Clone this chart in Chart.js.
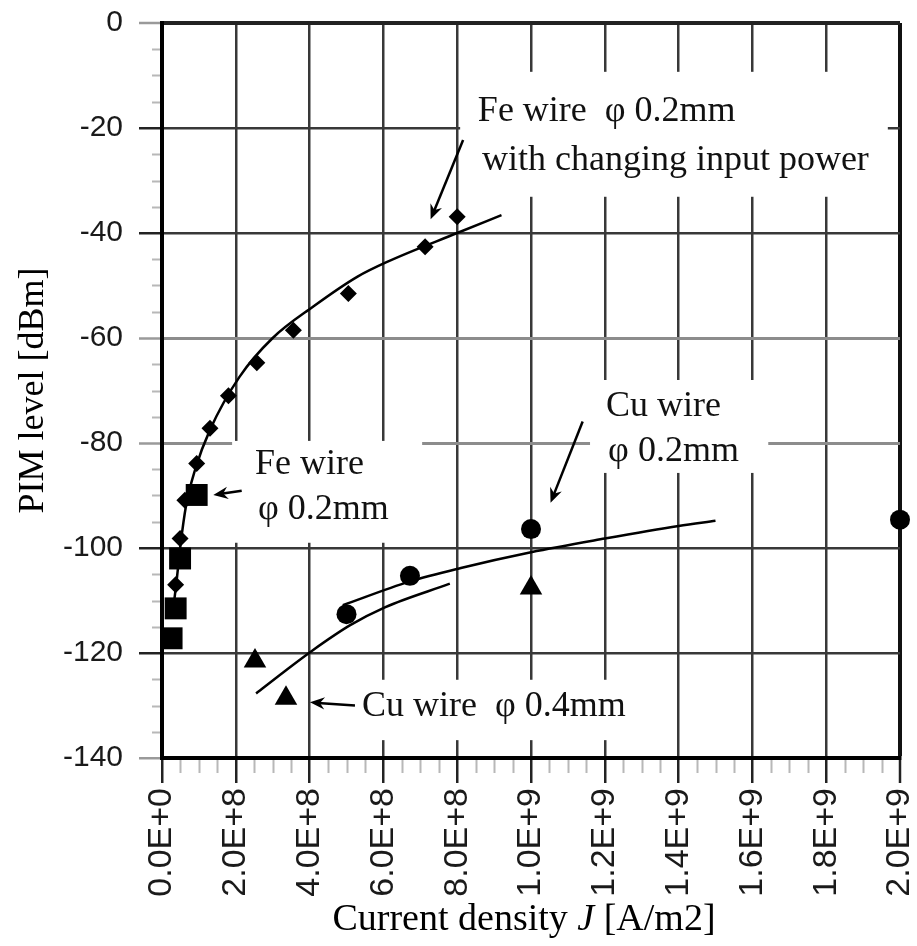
<!DOCTYPE html>
<html>
<head>
<meta charset="utf-8">
<script src="https://cdn.jsdelivr.net/npm/chart.js@4.4.1/dist/chart.umd.min.js"></script>
<style>
  html, body { margin: 0; padding: 0; background: #fff; }
</style>
</head>
<body>
<canvas id="pim" width="917" height="946"></canvas>
<script>
// Fe wire 0.2mm with changing input power (diamonds)
const feSweepX = [3.7e7, 4.9e7, 6.2e7, 9.4e7, 1.30e8, 1.80e8, 2.57e8, 3.56e8, 5.05e8, 7.13e8, 8.0e8];
const feSweepY = [-107, -98.2, -90.9, -83.9, -77.2, -71.0, -64.7, -58.5, -51.5, -42.6, -36.9];

// Fe wire 0.2mm (squares)
const feWireX = [2.6e7, 3.7e7, 4.9e7, 9.4e7];
const feWireY = [-117.2, -111.5, -102, -89.9];

// Cu wire 0.2mm (circles)
const cu02X = [5.0e8, 6.72e8, 1.0e9, 2.0e9];
const cu02Y = [-112.6, -105.3, -96.4, -94.6];

// Cu wire 0.4mm (triangles)
const cu04X = [2.52e8, 3.36e8, 1.0e9];
const cu04Y = [-121.5, -128.6, -107.6];

// fitted curves
const feFitX = [2.8e7, 4.0e7, 5.0e7, 6.5e7, 9.0e7, 1.3e8, 2.1e8, 3.0e8, 4.1e8, 5.3e8, 6.1e8, 8.0e8, 9.2e8];
const feFitY = [-113, -106, -99.5, -92, -85, -77.5, -67.4, -60, -54, -48.3, -45.5, -40, -36.6];
const cu02FitX = [4.9e8, 6.7e8, 8.1e8, 1.0e9, 1.2e9, 1.4e9, 1.5e9];
const cu02FitY = [-110.9, -106.4, -103.8, -100.8, -98.2, -95.8, -94.8];
const cu04FitX = [2.55e8, 3.3e8, 4.06e8, 5.1e8, 6.04e8, 7.8e8];
const cu04FitY = [-127.7, -123.6, -119.6, -114.7, -111.3, -106.8];

const xTickLabels = ['0.0E+0', '2.0E+8', '4.0E+8', '6.0E+8', '8.0E+8', '1.0E+9',
                     '1.2E+9', '1.4E+9', '1.6E+9', '1.8E+9', '2.0E+9'];
const yTickLabels = ['-140', '-120', '-100', '-80', '-60', '-40', '-20', '0'];

// annotation text: [x, y, text]
const notes = [
  [8.56e8, -16.9, 'Fe wire  \u03c6 0.2mm'],
  [8.67e8, -26.2, 'with changing input power'],
  [2.52e8, -84.1, 'Fe wire'],
  [2.60e8, -92.6, '\u03c6 0.2mm'],
  [1.203e9, -73.1, 'Cu wire'],
  [1.209e9, -81.6, '\u03c6 0.2mm'],
  [5.42e8, -130.2, 'Cu wire  \u03c6 0.4mm'],
];
// white boxes behind the notes: [x0, x1, yTop, yBottom]
const noteBoxes = [
  [8.08e8, 1.967e9, -9.3, -33.1],
  [1.9e8, 7.05e8, -79.6, -99.0],
  [1.16e9, 1.643e9, -68, -85.7],
  [4.7e8, 1.32e9, -125.1, -136.6],
];
// arrows: [tailX, tailY, tipX, tipY]
const arrows = [
  [8.16e8, -22.3, 7.28e8, -37.4],
  [2.16e8, -89.1, 1.39e8, -89.9],
  [1.14e9, -75.9, 1.053e9, -91.4],
  [5.23e8, -130.0, 4.01e8, -129.4],
];

const pts = (xs, ys) => xs.map((x, i) => ({ x, y: ys[i] }));
const serif = '"Liberation Serif", "Times New Roman", serif';

const markerSet = (label, xs, ys, style, r) => ({
  label, data: pts(xs, ys), showLine: false, pointStyle: style, pointRadius: r,
  pointHoverRadius: r, backgroundColor: '#000', borderColor: '#000', borderWidth: 0, clip: false,
});
const fitSet = (label, xs, ys) => ({
  label, data: pts(xs, ys), showLine: true, pointRadius: 0, borderColor: '#000',
  borderWidth: 2.5, cubicInterpolationMode: 'monotone', fill: false,
});

const overlay = {
  id: 'overlay',
  beforeDatasetsDraw(chart) {
    const { ctx, scales: { x, y } } = chart;
    ctx.save();
    ctx.fillStyle = '#fff';
    noteBoxes.forEach(([x0, x1, y0, y1]) => {
      const px0 = x.getPixelForValue(x0), px1 = x.getPixelForValue(x1);
      const py0 = y.getPixelForValue(y0), py1 = y.getPixelForValue(y1);
      ctx.fillRect(px0, py0, px1 - px0, py1 - py0);
    });
    ctx.restore();
  },
  afterDatasetsDraw(chart) {
    const { ctx, scales: { x, y } } = chart;
    ctx.save();
    ctx.strokeStyle = '#000';
    ctx.fillStyle = '#000';
    ctx.lineWidth = 2.5;
    arrows.forEach(([tx, ty, hx, hy]) => {
      const x0 = x.getPixelForValue(tx), y0 = y.getPixelForValue(ty);
      const x1 = x.getPixelForValue(hx), y1 = y.getPixelForValue(hy);
      const a = Math.atan2(y1 - y0, x1 - x0);
      ctx.beginPath();
      ctx.moveTo(x0, y0);
      ctx.lineTo(x1 - 8 * Math.cos(a), y1 - 8 * Math.sin(a));
      ctx.stroke();
      ctx.beginPath();
      ctx.moveTo(x1, y1);
      ctx.lineTo(x1 - 16 * Math.cos(a - 0.4), y1 - 16 * Math.sin(a - 0.4));
      ctx.lineTo(x1 - 10 * Math.cos(a), y1 - 10 * Math.sin(a));
      ctx.lineTo(x1 - 16 * Math.cos(a + 0.4), y1 - 16 * Math.sin(a + 0.4));
      ctx.closePath();
      ctx.fill();
    });
    ctx.font = '36px ' + serif;
    ctx.fillStyle = '#111';
    ctx.textBaseline = 'middle';
    ctx.textAlign = 'left';
    notes.forEach(([nx, ny, t]) => ctx.fillText(t, x.getPixelForValue(nx), y.getPixelForValue(ny)));
    ctx.restore();
  },
  afterDraw(chart) {
    const { ctx, chartArea: area, scales: { x, y } } = chart;
    ctx.save();
    // minor ticks
    ctx.strokeStyle = '#b8b8b8';
    ctx.lineWidth = 2;
    ctx.beginPath();
    for (let v = -135; v < 0; v += 5) {
      if (v % 20 === 0) continue;
      const py = Math.round(y.getPixelForValue(v)) + 0.5;
      ctx.moveTo(area.left - 10, py);
      ctx.lineTo(area.left - 2, py);
    }
    for (let k = 1; k < 40; k++) {
      if (k % 4 === 0) continue;
      const px = Math.round(x.getPixelForValue(k * 5e7)) + 0.5;
      ctx.moveTo(px, area.bottom + 2);
      ctx.lineTo(px, area.bottom + 15);
    }
    ctx.stroke();
    // x axis title with italic J
    const parts = [['Current density ', ''], ['J', 'italic '], [' [A/m2]', '']];
    let w = 0;
    parts.forEach(([t, st]) => { ctx.font = st + '38px ' + serif; w += ctx.measureText(t).width; });
    let cx = (area.left + area.right) / 2 - 7 - w / 2;
    ctx.fillStyle = '#000';
    ctx.textBaseline = 'middle';
    ctx.textAlign = 'left';
    parts.forEach(([t, st]) => {
      ctx.font = st + '38px ' + serif;
      ctx.fillText(t, cx, 920);
      cx += ctx.measureText(t).width;
    });
    ctx.restore();
  }
};

const isGrey = v => v === -60 || v === -80;

new Chart(document.getElementById('pim'), {
  type: 'scatter',
  data: {
    datasets: [
      markerSet('Fe wire 0.2mm, changing input power', feSweepX, feSweepY, 'rectRot', 8.5),
      markerSet('Fe wire 0.2mm', feWireX, feWireY, 'rect', 15.5),
      markerSet('Cu wire 0.2mm', cu02X, cu02Y, 'circle', 10),
      markerSet('Cu wire 0.4mm', cu04X, cu04Y, 'triangle', 13),
      fitSet('Fe fit', feFitX, feFitY),
      fitSet('Cu 0.2mm fit', cu02FitX, cu02FitY),
      fitSet('Cu 0.4mm fit', cu04FitX, cu04FitY),
    ],
  },
  options: {
    responsive: false,
    animation: false,
    devicePixelRatio: 1,
    layout: { padding: { top: 23, right: 17, left: 0, bottom: 0 } },
    plugins: { legend: { display: false }, tooltip: { enabled: false } },
    scales: {
      x: {
        type: 'linear', min: 0, max: 2e9,
        afterFit: s => { s.height = 188; s.paddingLeft = 0; s.paddingRight = 0; },
        ticks: {
          stepSize: 2e8, minRotation: 90, maxRotation: 90, autoSkip: false, padding: 5,
          color: '#1a1a1a',
          font: { family: '"Liberation Sans", Arial, sans-serif', size: 34, lineHeight: 1 },
          callback: (v, i) => xTickLabels[i],
        },
        grid: {
          color: c => (c.tick && c.tick.value >= 1.99e9) ? '#111' : '#383838',
          lineWidth: c => (c.tick && c.tick.value >= 1.99e9) ? 4 : 2.5,
          tickLength: 25, tickColor: '#222', tickWidth: 2.5,
        },
        border: { color: '#000', width: 4 },
      },
      y: {
        type: 'linear', min: -140, max: 0,
        afterFit: s => { s.width = 162; s.paddingTop = 0; s.paddingBottom = 0; },
        ticks: {
          stepSize: 20, padding: 16, color: '#1a1a1a',
          font: { family: '"Liberation Sans", Arial, sans-serif', size: 30 },
          callback: (v, i) => yTickLabels[i],
        },
        grid: {
          color: c => !c.tick ? '#383838' : c.tick.value === 0 ? '#222' : isGrey(c.tick.value) ? '#8c8c8c' : '#383838',
          lineWidth: c => !c.tick ? 2.5 : c.tick.value === 0 ? 4 : isGrey(c.tick.value) ? 3 : 2.5,
          tickLength: 23,
          tickColor: c => (c.tick && (isGrey(c.tick.value) || c.tick.value === 0 || c.tick.value === -140)) ? '#9a9a9a' : '#222',
          tickWidth: 2.5,
        },
        border: { color: '#000', width: 4 },
        title: {
          display: true, text: 'PIM level [dBm]', color: '#000',
          font: { family: serif, size: 36 }, padding: { top: 12, bottom: 0 },
        },
      },
    },
  },
  plugins: [overlay],
});
</script>
</body>
</html>
